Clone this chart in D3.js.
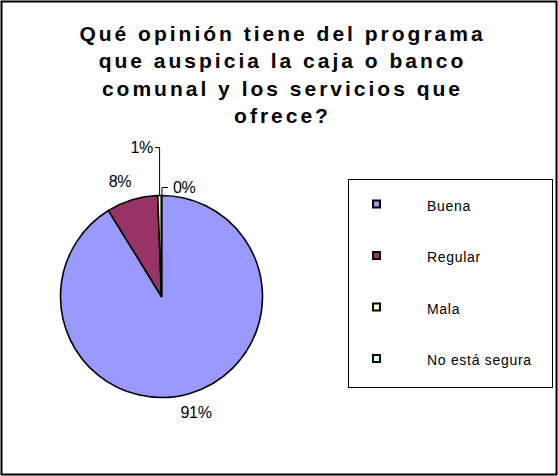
<!DOCTYPE html>
<html>
<head>
<meta charset="utf-8">
<script src="https://cdn.jsdelivr.net/npm/d3@7"></script>
<style>
  html, body { margin: 0; padding: 0; background: #fff; }
  svg { display: block; }
</style>
</head>
<body>
<svg id="chart" width="558" height="476"></svg>
<script>
// Survey answers and their shares (percent)
const categories = ["Buena", "Regular", "Mala", "No está segura"];
const shares = [91.2, 8.2, 0.6, 0.0];
const shareLabels = ["91%", "8%", "1%", "0%"];
const colors = ["#9999FF", "#993366", "#FFFFCC", "#CCFFFF"];
const titleLines = [
  "Qué opinión tiene del programa",
  "que auspicia la caja o banco",
  "comunal y los servicios que",
  "ofrece?"
];

const W = 558, H = 476;
const svg = d3.select("#chart");
const font = "'Liberation Sans', Arial, sans-serif";

// outer chart frame
svg.append("rect")
  .attr("x", 1.5).attr("y", 1.5)
  .attr("width", W - 3).attr("height", H - 3)
  .attr("fill", "#fff").attr("stroke", "#000").attr("stroke-width", 2);

// title
const titleSpacing = 3;
const title = svg.append("text")
  .attr("text-anchor", "middle")
  .attr("font-family", font)
  .attr("font-weight", "bold")
  .attr("font-size", 21)
  .attr("letter-spacing", titleSpacing)
  .attr("fill", "#000");
titleLines.forEach((line, i) => {
  title.append("tspan")
    .attr("x", 281 + titleSpacing / 2)
    .attr("y", 40.5 + i * 27.5)
    .text(line);
});

// pie
const cx = 161.5, cy = 296.5, r = 101;
const pie = d3.pie().sort(null).value(d => d.value);
const arcs = pie(categories.map((c, i) => ({ name: c, value: shares[i], color: colors[i], label: shareLabels[i] })));
const arc = d3.arc().innerRadius(0).outerRadius(r);

const g = svg.append("g").attr("transform", `translate(${cx},${cy})`);
g.selectAll("path")
  .data(arcs)
  .join("path")
  .attr("d", arc)
  .attr("fill", d => d.data.color)
  .attr("stroke", "#000")
  .attr("stroke-width", 1.6)
  .attr("stroke-linejoin", "round");

// percentage labels
const labelPos = [
  { x: 196, y: 418, anchor: "middle" },
  { x: 120, y: 187, anchor: "middle" },
  { x: 153, y: 153, anchor: "end" },
  { x: 173, y: 192.5, anchor: "start" }
];
arcs.forEach((d, i) => {
  svg.append("text")
    .attr("x", labelPos[i].x).attr("y", labelPos[i].y)
    .attr("text-anchor", labelPos[i].anchor)
    .attr("font-family", font)
    .attr("font-size", 16)
    .attr("letter-spacing", -0.3)
    .attr("fill", "#000")
    .text(d.data.label);
});

// leader lines for the two thin slices
function edgePoint(d) {
  const a = (d.startAngle + d.endAngle) / 2;
  return [cx + r * Math.sin(a), cy - r * Math.cos(a)];
}
const pMala = edgePoint(arcs[2]);
svg.append("polyline")
  .attr("points", `${pMala[0]},${pMala[1]} ${pMala[0]},147.5 155,147.5`)
  .attr("fill", "none").attr("stroke", "#000").attr("stroke-width", 1);
const pNo = edgePoint(arcs[3]);
svg.append("polyline")
  .attr("points", `${pNo[0] + 0.5},${pNo[1]} ${pNo[0] + 0.5},187.5 168,187.5`)
  .attr("fill", "none").attr("stroke", "#000").attr("stroke-width", 1);

// legend
const legend = svg.append("g");
legend.append("rect")
  .attr("x", 348.5).attr("y", 179.5)
  .attr("width", 204).attr("height", 208)
  .attr("fill", "#fff").attr("stroke", "#000").attr("stroke-width", 1);
const rowY = d3.scalePoint().domain(categories).range([205.5, 360]);
categories.forEach((c, i) => {
  const y = rowY(c);
  legend.append("rect")
    .attr("x", 373).attr("y", y - 5)
    .attr("width", 7).attr("height", 7)
    .attr("fill", colors[i]).attr("stroke", "#000").attr("stroke-width", 2);
  legend.append("text")
    .attr("x", 427).attr("y", y + 5)
    .attr("font-family", font)
    .attr("font-size", 14)
    .attr("letter-spacing", 0.7)
    .attr("fill", "#000")
    .text(c);
});
</script>
</body>
</html>
